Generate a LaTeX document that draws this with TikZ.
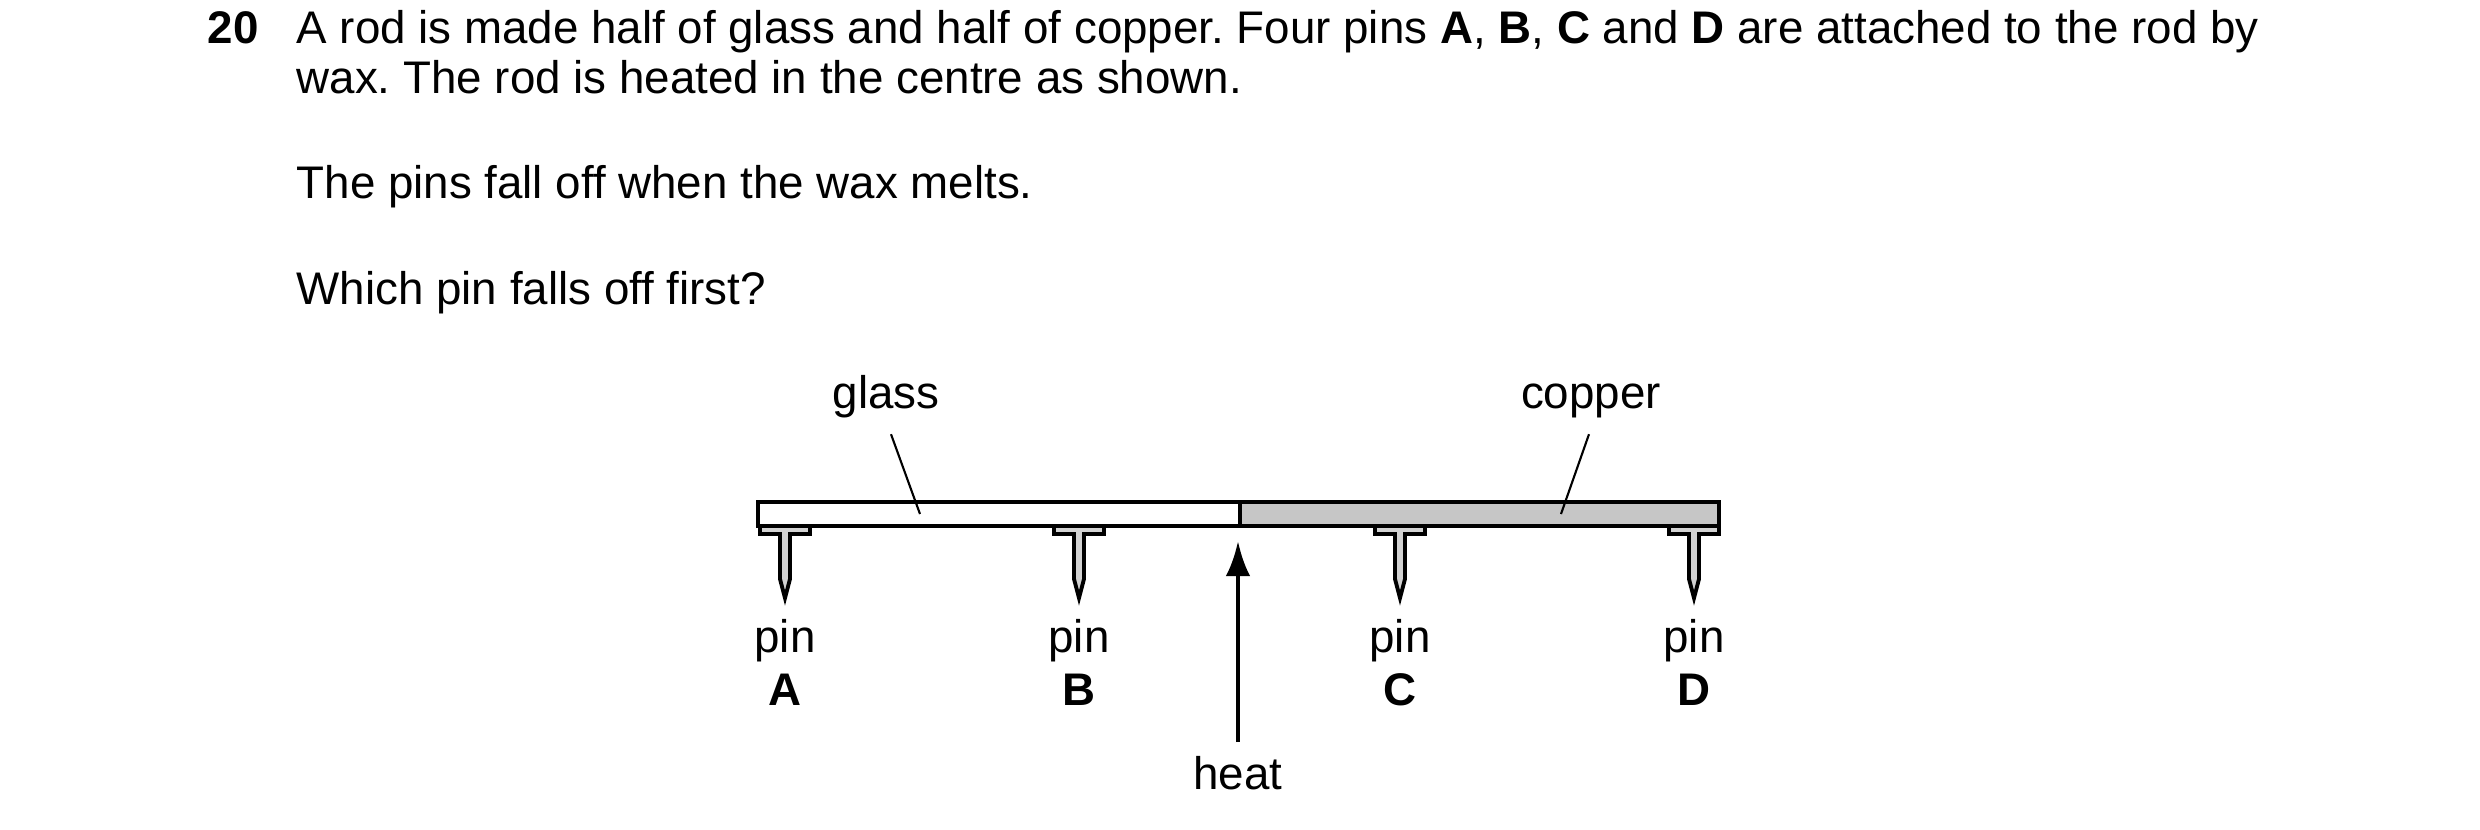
\documentclass[tikz,border=0pt]{standalone}
\usepackage{fontspec}
\setmainfont{Liberation Sans}
\usetikzlibrary{arrows.meta}
\begin{document}
\frenchspacing
\begin{tikzpicture}[x=0.01cm, y=-0.01cm, font=\fontsize{13}{15}\selectfont,
  txt/.style={anchor=base west, inner sep=0pt},
  lbl/.style={anchor=base, inner sep=0pt},
  rodline/.style={line width=1.4pt},
  pinline/.style={line width=1.1pt, fill=gray!35}]
\useasboundingbox (0,0) rectangle (2480,829);
% question text
\node[txt] (num) at (207,43) {\textbf{20}};
\node[txt] (l1) at (296,43) {A rod is made half of glass and half of copper. Four pins \textbf{A}, \textbf{B}, \textbf{C} and \textbf{D} are attached to the rod by};
\node[txt] (l2) at (296,93) {wax. The rod is heated in the centre as shown.};
\node[txt] (l3) at (296,198) {The pins fall off when the wax melts.};
\node[txt] (l4) at (296,304) {Which pin falls off first?};
% rod
\fill[gray!45] (1240,502) rectangle (1719,526);
\draw[rodline] (758,502) rectangle (1719,526);
\draw[line width=1.1pt] (1240,502) -- (1240,526);
% pins
\foreach \px/\nm in {785/A,1079/B,1400/C,1694/D}{
  \draw[pinline] (\px-25,526) -- (\px+25,526) -- (\px+25,534) -- (\px+5,534)
    -- (\px+5,579) -- (\px,598) -- (\px-5,579) -- (\px-5,534) -- (\px-25,534) -- cycle;
  \node[lbl] (pin\nm) at (\px,652) {pin};
  \node[lbl] (let\nm) at (\px,705) {\textbf{\nm}};
}
% labels
\node[lbl] (glass) at (886,408) {glass};
\node[lbl] (copper) at (1591,408) {copper};
\coordinate (gl) at (920,514);
\coordinate (cu) at (1561,514);
\draw[line width=0.6pt] (glass.south) ++(5,16) -- (gl);
\draw[line width=0.6pt] (copper.south) ++(-2,16) -- (cu);
% heat
\node[lbl] (heat) at (1238,789) {heat};
\coordinate (tip) at (1238,541);
\draw[line width=1.3pt, -{Latex[length=10pt,width=7pt]}] (1238,742) -- (tip);
\end{tikzpicture}
\end{document}
